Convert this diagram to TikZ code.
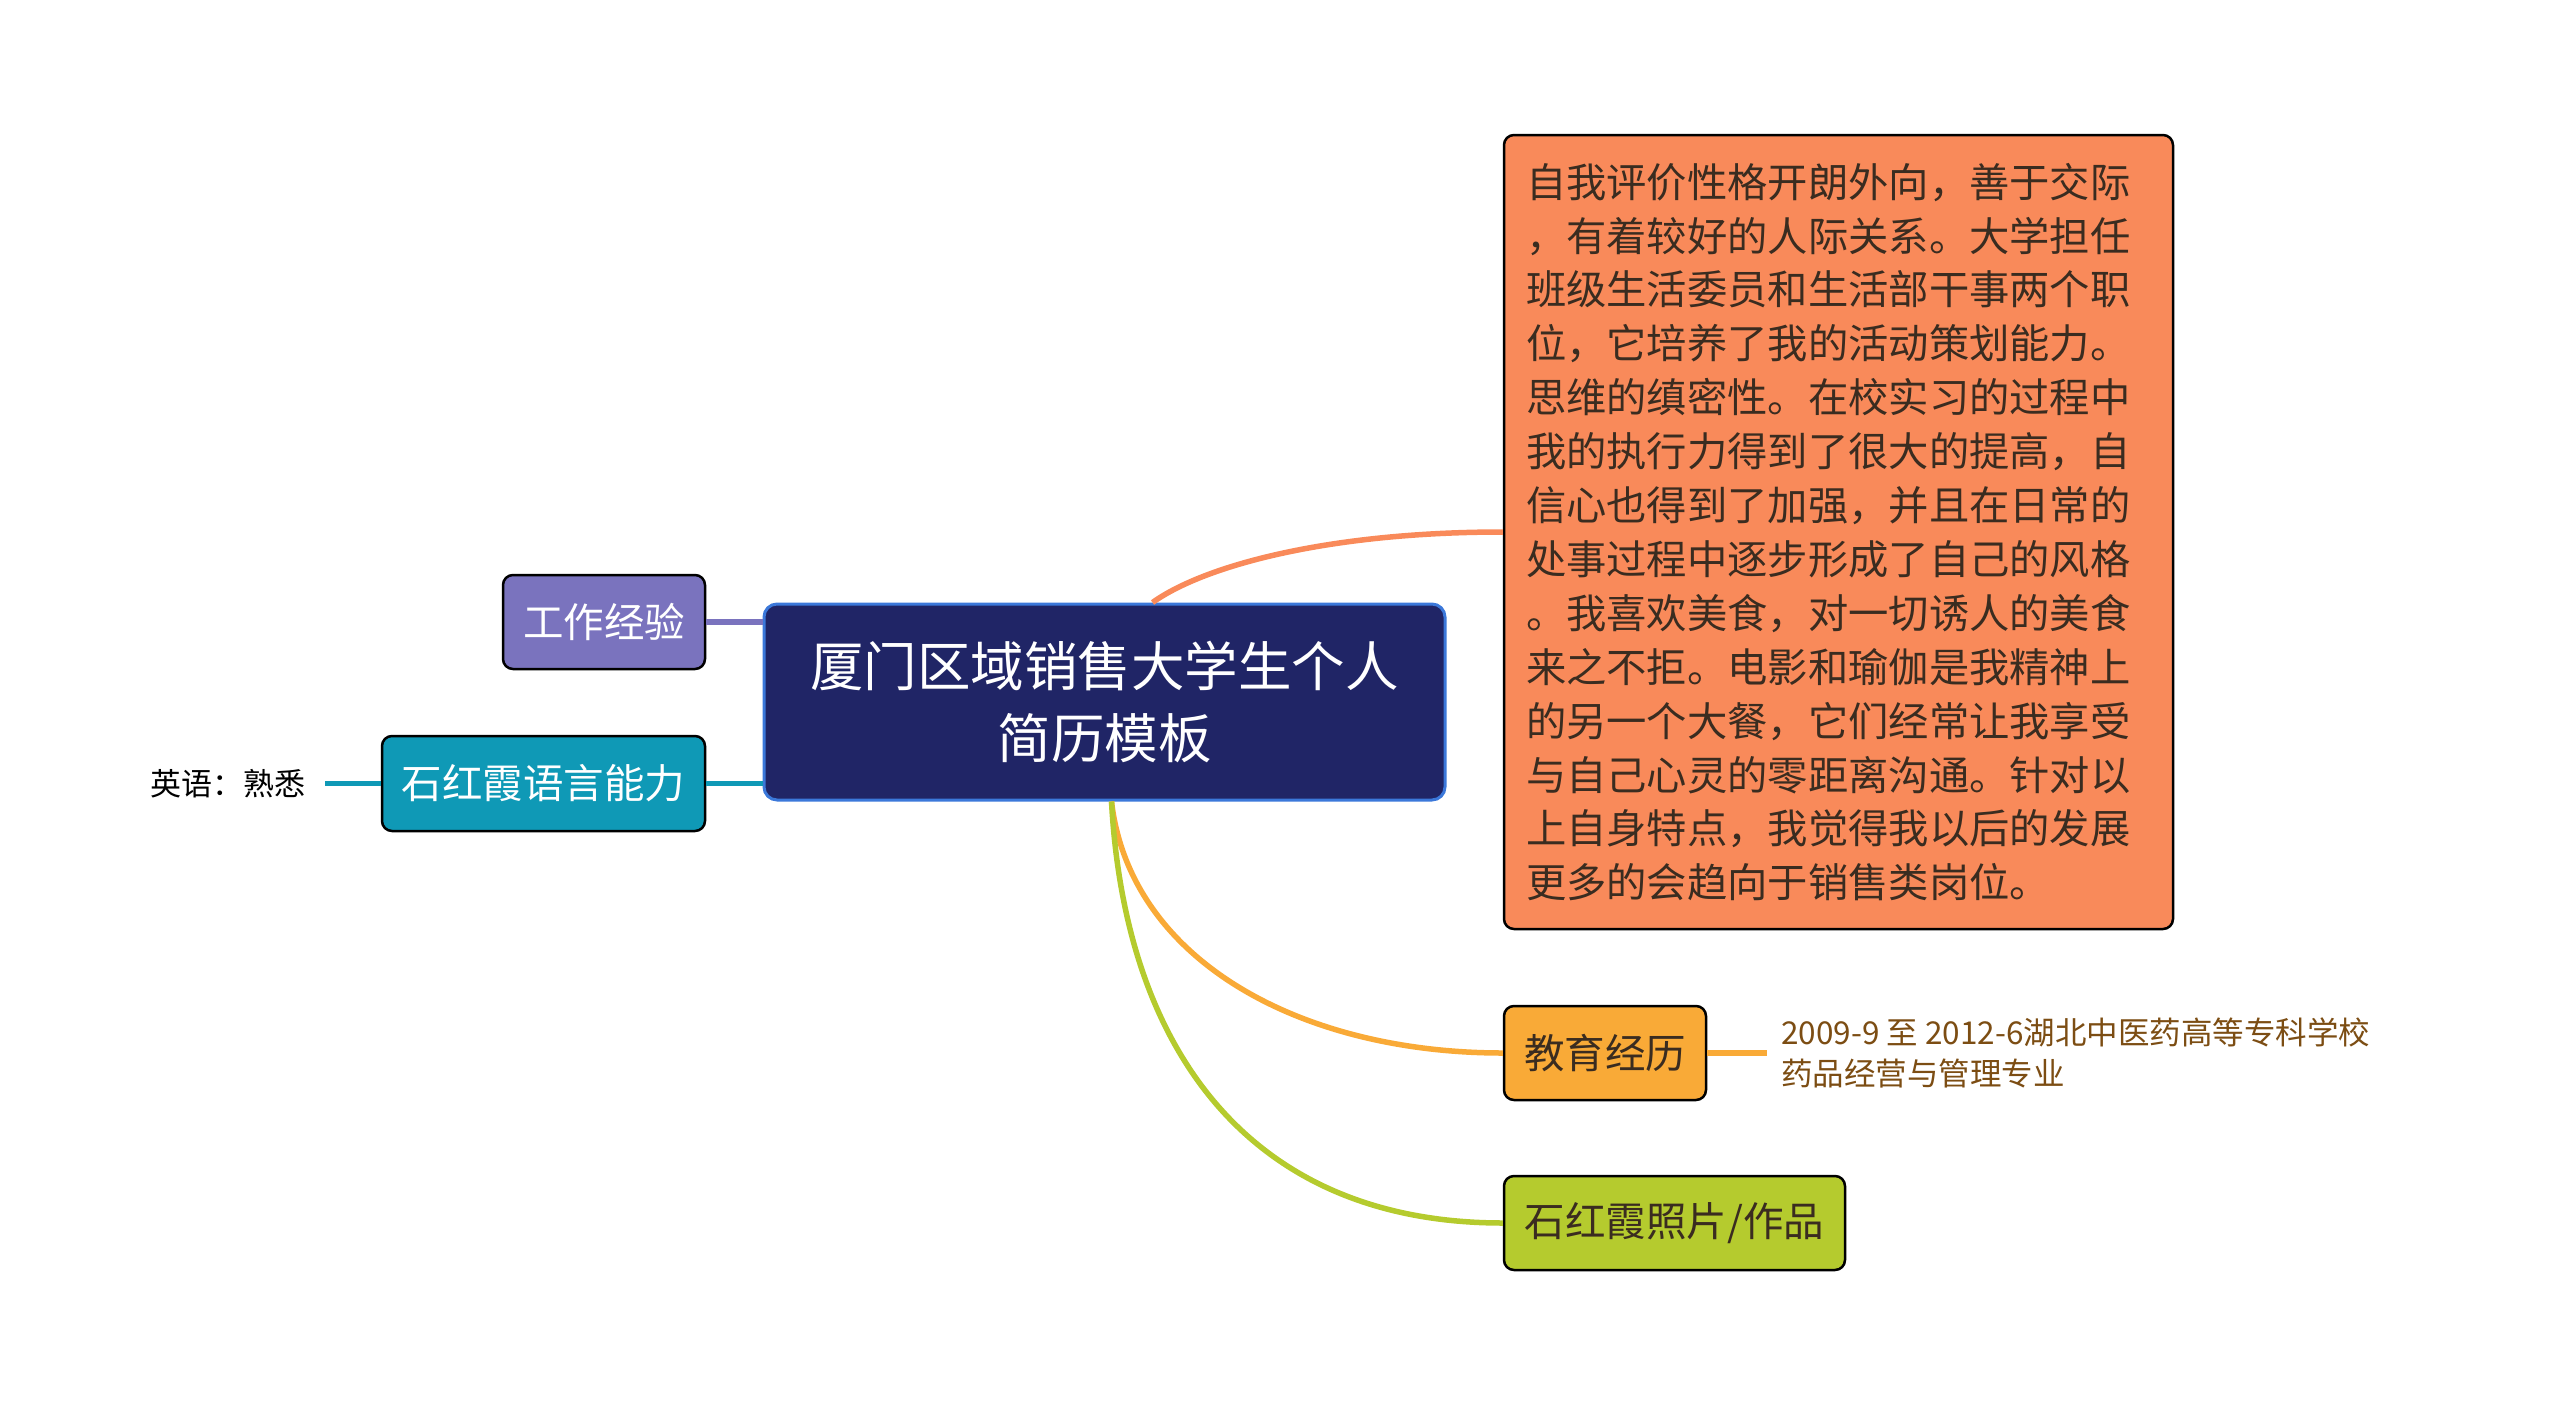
\documentclass[tikz,border=0pt]{standalone}
\usepackage{fontspec}
\setmainfont{Noto Sans CJK SC}
\usetikzlibrary{positioning}
\definecolor{rootfill}{HTML}{202566}
\definecolor{rootline}{HTML}{3B78DA}
\definecolor{workcol}{HTML}{7A73BE}
\definecolor{langcol}{HTML}{0F99B6}
\definecolor{evalcol}{HTML}{F98A5A}
\definecolor{educol}{HTML}{F9AA37}
\definecolor{photocol}{HTML}{B5CB2E}
\definecolor{darktext}{HTML}{3A2C20}
\definecolor{notebrown}{HTML}{7C4D13}

\begin{document}
\begin{tikzpicture}[x=1pt,y=-1pt,
      box/.style={rounded corners=10pt,draw=black,line width=2.5pt,inner sep=0pt,align=center,
        minimum height=94pt,font=\fontsize{40.5}{48}\selectfont},
      rootbox/.style={box,rounded corners=13pt,draw=rootline,fill=rootfill,line width=3pt,
        text=white,font=\fontsize{53.5}{72}\selectfont},
      note/.style={inner sep=0pt,align=left},
      link/.style={line width=5.5pt}]
    \useasboundingbox (0,0) rectangle (2560,1406);
    \node[rootbox,minimum width=681pt,minimum height=196pt] (root) at (1104.5,702)
      {厦门区域销售大学生个人\\简历模板};
    \node[box,fill=workcol,text=white,minimum width=202pt] (work) at (604,622) {工作经验};
    \node[box,fill=langcol,text=white,minimum width=323pt,minimum height=95pt] (lang) at (543.5,783.5)
      {石红霞语言能力};
    \node[note,text=black,font=\fontsize{31}{38}\selectfont,left=75pt of lang] (langnote) {英语：熟悉};
    \node[box,fill=evalcol,text=darktext,minimum width=669pt,minimum height=794pt,text width=625pt,
      align=left,font=\fontsize{40.3}{53.9}\selectfont] (eval) at (1838.5,532)
      {自我评价性格开朗外向，善于交际\\
       ，有着较好的人际关系。大学担任\\
       班级生活委员和生活部干事两个职\\
       位，它培养了我的活动策划能力。\\
       思维的缜密性。在校实习的过程中\\
       我的执行力得到了很大的提高，自\\
       信心也得到了加强，并且在日常的\\
       处事过程中逐步形成了自己的风格\\
       。我喜欢美食，对一切诱人的美食\\
       来之不拒。电影和瑜伽是我精神上\\
       的另一个大餐，它们经常让我享受\\
       与自己心灵的零距离沟通。针对以\\
       上自身特点，我觉得我以后的发展\\
       更多的会趋向于销售类岗位。};
    \node[box,fill=educol,text=darktext,minimum width=202pt] (edu) at (1605,1053) {教育经历};
    \node[note,anchor=west,text=notebrown,font=\fontsize{31.5}{41}\selectfont] (edunote) at (1781,1053)
      {2009-9 至 2012-6湖北中医药高等专科学校\\药品经营与管理专业};
    \node[box,fill=photocol,text=darktext,minimum width=341pt] (photo) at (1674.5,1223) {石红霞照片/作品};
    % branches
    \draw[link,workcol] (work.east) -- (work.east -| root.west);
    \draw[link,langcol] (lang.east) -- (lang.east -| root.west);
    \draw[link,langcol] (lang.west) -- ([xshift=19pt]langnote.east);
    \draw[link,evalcol] ([xshift=48pt]root.north) .. controls (1205,565) and (1330,532) .. (eval.west);
    \draw[link,educol] ([xshift=7pt]root.south) .. controls (1130,960) and (1300,1053) .. (edu.west);
    \draw[link,photocol] ([xshift=7pt]root.south) .. controls (1125,1050) and (1250,1223) .. (photo.west);
    \draw[link,educol] (edu.east) -- ([xshift=-14pt]edunote.west);
  \end{tikzpicture}
\end{document}
